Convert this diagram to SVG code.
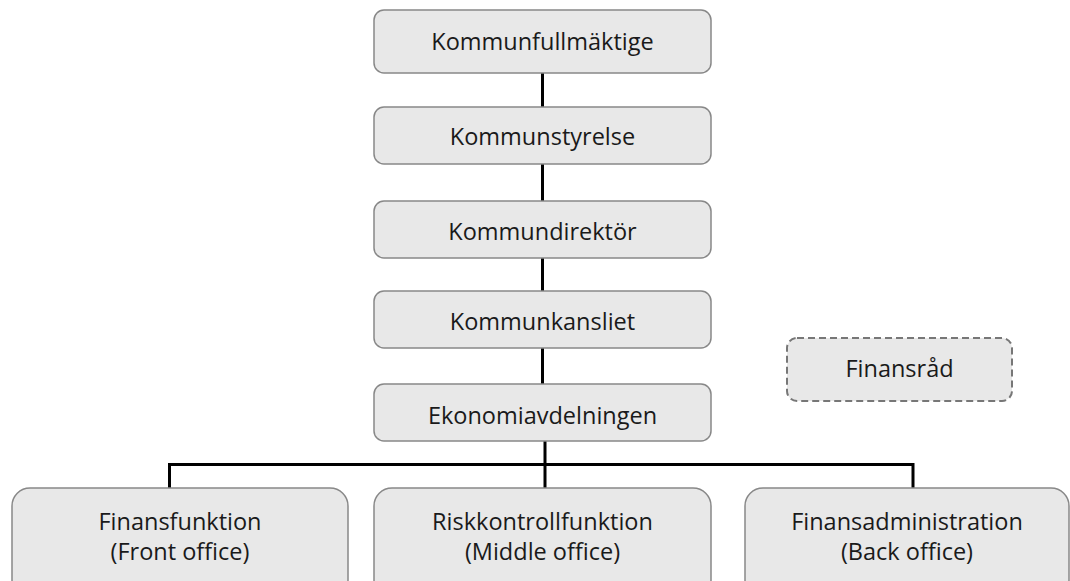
<svg xmlns="http://www.w3.org/2000/svg" width="1070" height="581" viewBox="0 0 1070 581">
<style>
.box{fill:#e8e8e8;stroke:#888;stroke-width:1.5}
.dash{fill:#e8e8e8;stroke:#777;stroke-width:2;stroke-dasharray:7,4}
.t{font-family:"Open Sans","Noto Sans",sans-serif;font-size:23.5px;fill:#1a1a1a;text-anchor:middle}
.c{fill:none;stroke:#000;stroke-width:3}
</style>
<rect width="1070" height="581" fill="#fff"/>
<g id="connectors">
<path class="c" d="M542.5 73V107M542.5 164V201M542.5 258V291M542.5 348V384"/>
<path class="c" d="M545 441V488M169.5 488V464.5H913V488"/>
</g>
<g id="kommunfullmaktige"><rect class="box" x="374" y="10" width="337" height="63" rx="10"/><text class="t" x="542.5" y="49.5">Kommunfullmäktige</text></g>
<g id="kommunstyrelse"><rect class="box" x="374" y="107" width="337" height="57" rx="10"/><text class="t" x="542.5" y="145">Kommunstyrelse</text></g>
<g id="kommundirektor"><rect class="box" x="374" y="201" width="337" height="57" rx="10"/><text class="t" x="542.5" y="240">Kommundirektör</text></g>
<g id="kommunkansliet"><rect class="box" x="374" y="291" width="337" height="57" rx="10"/><text class="t" x="542.5" y="329.5">Kommunkansliet</text></g>
<g id="ekonomiavdelningen"><rect class="box" x="374" y="384" width="337" height="57" rx="10"/><text class="t" x="542.5" y="423.5">Ekonomiavdelningen</text></g>
<g id="finansrad"><rect class="dash" x="787" y="338" width="225" height="63" rx="10"/><text class="t" x="899.5" y="376.5">Finansråd</text></g>
<g id="finansfunktion"><rect class="box" x="12" y="488" width="336" height="110" rx="18"/><text class="t" x="180" y="529.5">Finansfunktion</text><text class="t" x="180" y="560">(Front office)</text></g>
<g id="riskkontrollfunktion"><rect class="box" x="374" y="488" width="337" height="110" rx="18"/><text class="t" x="542.5" y="529.5">Riskkontrollfunktion</text><text class="t" x="542.5" y="560">(Middle office)</text></g>
<g id="finansadministration"><rect class="box" x="745" y="488" width="324" height="110" rx="18"/><text class="t" x="907" y="529.5">Finansadministration</text><text class="t" x="907" y="560">(Back office)</text></g>
</svg>
